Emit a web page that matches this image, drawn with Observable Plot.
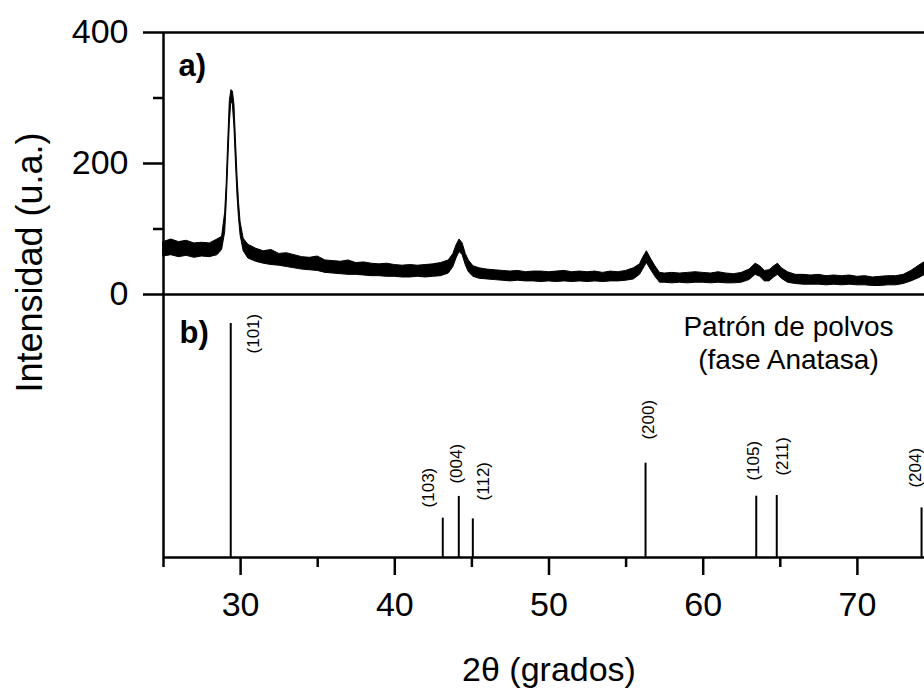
<!DOCTYPE html>
<html><head><meta charset="utf-8">
<script src="https://cdn.jsdelivr.net/npm/d3@7"></script>
<script src="https://cdn.jsdelivr.net/npm/@observablehq/plot@0.6"></script>
<style>
html,body{margin:0;padding:0;background:#fff;}
#chart{position:relative;width:924px;height:693px;overflow:hidden;background:#fff;}
#chart svg{position:absolute;left:0;top:0;max-width:none !important;}
</style></head><body><div id="chart"></div>
<script>
// ---- panel a: measured pattern (noisy trace read as lower / upper envelope) ----
const theta = [25.0,25.5,26.0,26.5,27.0,27.5,28.0,28.5,28.8,29.0,29.1,29.2,29.3,29.4,29.5,29.6,29.7,29.8,29.9,30.0,30.2,30.5,31.0,31.5,32.0,32.5,33.0,33.5,34.0,34.5,35.0,35.5,36.0,36.5,37.0,37.5,38.0,38.5,39.0,39.5,40.0,40.5,41.0,41.5,42.0,42.5,43.0,43.5,43.8,44.0,44.2,44.4,44.6,44.8,45.1,45.5,46.0,46.5,47.0,47.5,48.0,48.5,49.0,49.5,50.0,50.5,51.0,51.5,52.0,52.5,53.0,53.5,54.0,54.5,55.0,55.5,55.9,56.1,56.35,56.6,56.9,57.2,57.5,58.0,58.5,59.0,59.5,60.0,60.5,61.0,61.5,62.0,62.5,63.0,63.4,63.7,64.0,64.3,64.6,64.85,65.1,65.5,66.0,66.5,67.0,67.5,68.0,68.5,69.0,69.5,70.0,70.5,71.0,71.5,72.0,72.5,73.0,73.5,74.0,74.4];
const lower = [58,60,57,59,56,58,57,60,68,95,140,200,260,295,290,255,200,150,115,90,66,55,50,47,45,44,42,40,38,37,36,33,32,31,30,30,29,28,28,27,27,26,26,27,26,27,28,32,42,55,65,60,45,34,27,24,23,22,21,20,21,20,20,19,20,19,20,19,20,19,20,19,20,20,21,23,30,38,48,38,27,18,18,17,18,17,18,18,17,18,17,17,18,22,30,27,20,20,26,30,24,18,16,15,15,15,14,15,14,15,14,14,13,13,14,14,16,20,25,30];
const upper = [80,84,80,82,78,79,78,84,88,125,170,235,295,312,310,290,235,180,140,110,85,76,70,66,68,62,63,60,57,56,58,52,51,50,52,48,49,47,46,47,45,44,45,44,45,46,48,52,62,75,84,78,62,52,43,40,38,37,36,35,36,34,35,35,34,35,36,34,35,34,35,33,35,34,36,40,46,56,66,55,43,33,32,33,32,33,34,33,32,34,32,31,33,38,47,43,36,37,43,47,40,34,30,30,29,30,28,29,28,29,27,28,26,27,28,28,30,36,44,50];

// ---- panel b: powder pattern (anatase) ----
const hkl = ["(101)","(103)","(004)","(112)","(200)","(105)","(211)","(204)"];
const stickTheta = [29.36,43.11,44.15,45.06,56.26,63.44,64.77,74.16];
const stickIntensity = [100,16.8,26.1,16.5,40.3,26.2,26.5,21.2];
const labelTheta = [30.84,42.19,44.0,45.75,56.43,63.26,65.12,73.8];
const labelIntensity = [87.2,21.4,31.6,24.4,50.4,32.9,35.0,29.9];

// ---- axes ----
const xDomain = [25, 75];
const xTicks = [30,40,50,60,70];
const xMinorTicks = [25,35,45,55,65,75];
const yDomainA = [0, 400];
const yTicks = [0,200,400];
const yMinorTicks = [100,300];
const yDomainB = [0, 112.4];

const trace = theta.map((t, i) => ({theta: t, lower: lower[i], upper: upper[i]}));
const sticks = hkl.map((h, i) => ({hkl: h, theta: stickTheta[i], intensity: stickIntensity[i], labelTheta: labelTheta[i], labelIntensity: labelIntensity[i]}));

const FONT = "'Liberation Sans', Arial, sans-serif";
const W = 950, H = 693;
const common = {
  width: W, height: H, marginLeft: 163, marginRight: 16,
  style: {background: "transparent", overflow: "visible", maxWidth: "none", fontFamily: FONT, fontSize: "34px", color: "#000"}
};
const LW = 2.5;

const topPlot = Plot.plot({
  ...common, marginTop: 32, marginBottom: H - 294,
  x: {domain: xDomain, axis: null},
  y: {domain: yDomainA, axis: null},
  marks: [
    Plot.areaY(trace, {x: "theta", y1: "lower", y2: "upper", fill: "#000", stroke: "#000", strokeWidth: 1}),
    Plot.ruleY(yDomainA, {stroke: "#000", strokeWidth: LW}),
    Plot.ruleX([xDomain[0]], {stroke: "#000", strokeWidth: LW}),
    Plot.axisY({ticks: yTicks, tickSize: 20, tickPadding: 15, stroke: "#000", strokeWidth: LW, label: null}),
    Plot.axisY({ticks: yMinorTicks, tickSize: 10, tickFormat: () => "", stroke: "#000", strokeWidth: LW, label: null}),
    Plot.text(["a)"], {frameAnchor: "top-left", dx: 15, dy: 43, textAnchor: "start", lineAnchor: "bottom", fontSize: 31, fontWeight: "bold", fontFamily: FONT}),
    Plot.text(["Intensidad (u.a.)"], {frameAnchor: "left", rotate: -90, dx: -122, dy: 99, textAnchor: "middle", lineAnchor: "bottom", fontSize: 36, fontFamily: FONT})
  ]
});

const bottomPlot = Plot.plot({
  ...common, marginTop: 294, marginBottom: H - 557,
  x: {domain: xDomain},
  y: {domain: yDomainB, axis: null},
  marks: [
    Plot.ruleX(sticks, {x: "theta", y1: 0, y2: "intensity", stroke: "#000", strokeWidth: 2}),
    Plot.text(sticks, {x: "labelTheta", y: "labelIntensity", text: "hkl", rotate: -90, textAnchor: "start", lineAnchor: "middle", fontSize: 17, fontFamily: FONT}),
    Plot.ruleY([0], {stroke: "#000", strokeWidth: LW}),
    Plot.ruleX([xDomain[0]], {stroke: "#000", strokeWidth: LW}),
    Plot.axisX({ticks: xTicks, tickSize: 18, tickPadding: 16, stroke: "#000", strokeWidth: LW, label: null}),
    Plot.axisX({ticks: xMinorTicks, tickSize: 10, tickFormat: () => "", stroke: "#000", strokeWidth: LW, label: null}),
    Plot.text(["b)"], {frameAnchor: "top-left", dx: 16, dy: 48, textAnchor: "start", lineAnchor: "bottom", fontSize: 31, fontWeight: "bold", fontFamily: FONT}),
    Plot.text(["Patrón de polvos\n(fase Anatasa)"], {frameAnchor: "top-right", dx: -146, dy: 19, textAnchor: "middle", lineAnchor: "top", fontSize: 28, lineHeight: 1.15, fontFamily: FONT}),
    Plot.text(["2θ (grados)"], {frameAnchor: "bottom", dy: 123, lineAnchor: "bottom", fontSize: 34, fontFamily: FONT})
  ]
});

const chart = document.getElementById("chart");
chart.appendChild(topPlot);
chart.appendChild(bottomPlot);
</script>
</body></html>
